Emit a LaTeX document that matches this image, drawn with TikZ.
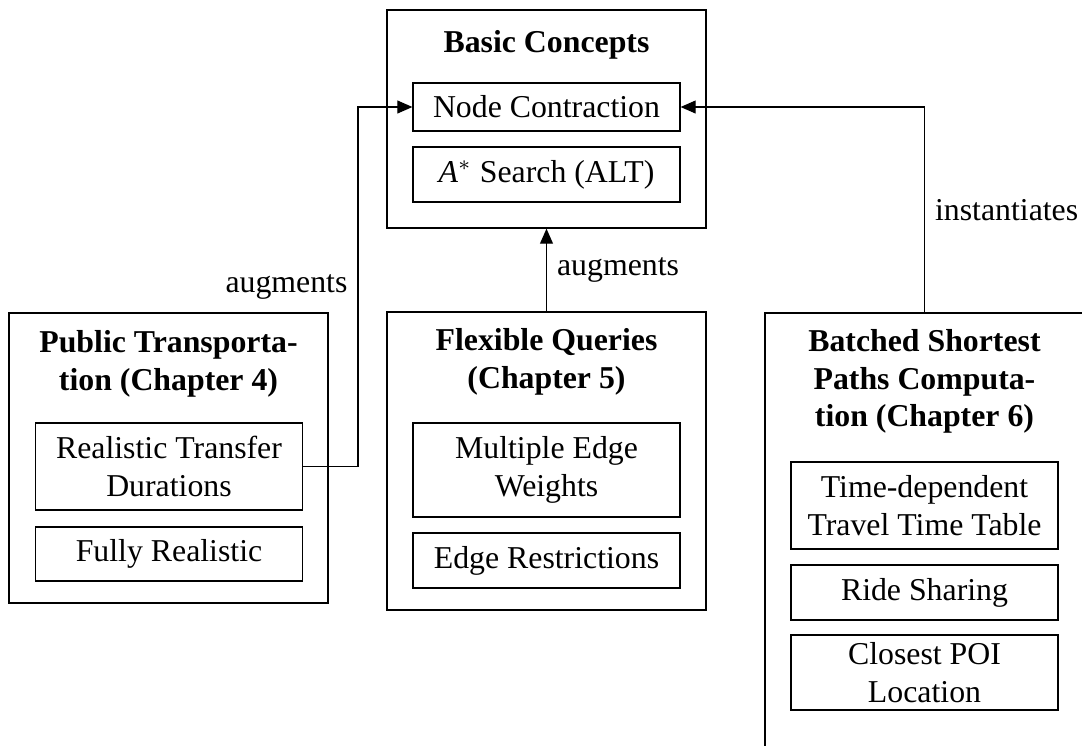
\documentclass[tikz,border=0pt]{standalone}
\usepackage{fontspec}
\setmainfont{Liberation Serif}
\usetikzlibrary{arrows.meta,positioning}

\begin{document}
\begin{tikzpicture}[x=0.3333pt, y=-0.3333pt, font=\fontsize{10.6}{12.5}\selectfont]
			\tikzstyle{Group}	= [draw, rectangle, inner sep=0pt, minimum width=106.3pt]
			\tikzstyle{Title}	= [font=\fontsize{10.6}{12.5}\selectfont\bfseries, align=center, inner sep=0pt]
			\tikzstyle{Item}	= [draw, rectangle, inner sep=0pt, minimum width=89pt, align=center]
			\tikzstyle{Uses}	= [-{Triangle[length=5pt, width=4.3pt]}]

			\useasboundingbox (0,0) rectangle (1082,745);

			% basic concepts
			\node (basic) at (546.5,119) [Group, minimum height=72.7pt] {};
			\node (basicT) at (546.5,44.5) [Title] {Basic Concepts};
			\node (nc) at (546.5,107) [Item, minimum height=16pt] {Node Contraction};
			\node (alt) at (546.5,174.5) [Item, minimum height=18.3pt] {\textit{A}$^*$ Search (ALT)};

			% chapter 4
			\node (pt) at (168.5,458) [Group, minimum height=96.7pt] {};
			\node (ptT) at (168.5,364) [Title] {Public Transporta-\\tion (Chapter 4)};
			\node (rtd) at (169,466.5) [Item, minimum height=29pt] {Realistic Transfer\\Durations};
			\node (fr) at (169,554) [Item, minimum height=18pt] {Fully Realistic};

			% chapter 5
			\node (fq) at (546.5,461) [Group, minimum height=99.3pt] {};
			\node (fqT) at (546.5,362) [Title] {Flexible Queries\\(Chapter 5)};
			\node (mew) at (546.5,470) [Item, minimum height=31.3pt] {Multiple Edge\\Weights};
			\node (er) at (546.5,560.5) [Item, minimum height=18.3pt] {Edge Restrictions};

			% chapter 6
			\node (bsp) at (924.5,541.5) [Group, minimum height=152.3pt] {};
			\node (bspT) at (924.5,381.5) [Title] {Batched Shortest\\Paths Computa-\\tion (Chapter 6)};
			\node (tdt) at (924.5,505.5) [Item, minimum height=29pt] {Time-dependent\\Travel Time Table};
			\node (rs) at (924.5,592.5) [Item, minimum height=18.3pt] {Ride Sharing};
			\node (poi) at (924.5,672.5) [Item, minimum height=25pt] {Closest POI\\Location};

			\coordinate (bend) at (358,466.5);

			\draw [Uses] (fq.north) -- node[right] (aug2) {augments} (basic.south);
			\draw [Uses] (rtd.east) -- (bend) |- node[pos=0.25, left] (aug1) {augments} (nc.west);
			\draw [Uses] (bsp.north) |- node[pos=0.25, right] (inst) {instantiates} (nc.east);
		\end{tikzpicture}
\end{document}
